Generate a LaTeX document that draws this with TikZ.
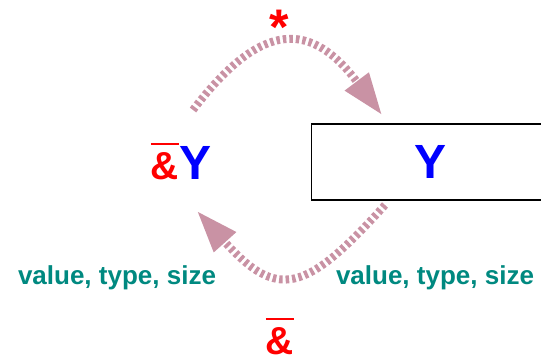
\documentclass[tikz,border=0pt]{standalone}
\usepackage{fontspec}
\setmainfont{Liberation Sans}
\usepackage{xcolor}
\usetikzlibrary{arrows.meta}

\definecolor{linkpink}{RGB}{201,146,164}
\definecolor{infoteal}{RGB}{0,137,128}

\newcommand{\barred}[1]{\vbox{\hrule height 2.5pt\kern 7pt\hbox{#1}}}

\begin{document}
\begin{tikzpicture}[x=1pt, y=-1pt, inner sep=0pt, >={Triangle[length=42pt,width=28pt]},
    link/.style={->, draw=linkpink, line width=8pt, dash pattern=on 3.5pt off 3pt},
    info/.style={text=infoteal, font=\fontsize{26}{30}\selectfont\bfseries},
    amp/.style={text=red, font=\fontsize{39}{42}\selectfont\bfseries},
    big/.style={text=blue, font=\fontsize{48}{52}\selectfont\bfseries}]

    \useasboundingbox (0,0) rectangle (541,361);

    % Etiquetas
    \node[amp, anchor=base] (ampY) at (181,179) {\barred{\&}\color{blue}\fontsize{48}{52}\selectfont Y};
    \node[big, draw=black, line width=1.2pt, minimum width=238pt, minimum height=76pt, anchor=west] (ybox) at (311,162) {Y};
    \node[text=red, font=\fontsize{50}{52}\selectfont\bfseries, anchor=base] (star) at (279,45) {*};
    \node[amp, anchor=base] (ampbot) at (280,354) {\barred{\&}};
    \node[info, anchor=base] (vtsL) at (117,284) {value, type, size};
    \node[info, anchor=base] (vtsR) at (435,284) {value, type, size};

    % Extremos de los arcos
    \coordinate (toptail) at (193,110);
    \coordinate (toptip) at (382,115);
    \coordinate (bottail) at (385,205);
    \coordinate (bottip) at (197,211);

    \draw[link] (toptail) .. controls (263,18) and (312,22) .. (toptip);
    \draw[link] (bottail) .. controls (305,294) and (277,300) .. (bottip);
\end{tikzpicture}
\end{document}
